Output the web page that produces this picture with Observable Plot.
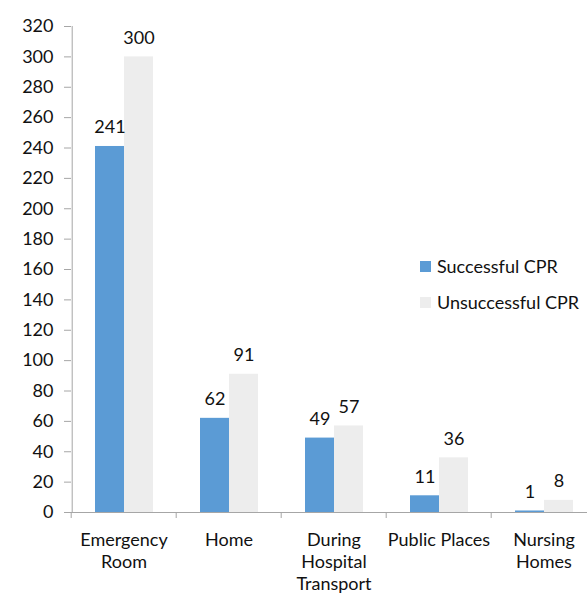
<!DOCTYPE html>
<html>
<head>
<meta charset="utf-8">
<script src="https://cdn.jsdelivr.net/npm/d3@7"></script>
<script src="https://cdn.jsdelivr.net/npm/@observablehq/plot@0.6"></script>
<style>
  html, body { margin: 0; padding: 0; background: #fff; }
  #chart { position: relative; width: 587px; height: 595px; font-family: Lato, "Open Sans", sans-serif; }
  .legend { position: absolute; left: 420px; top: 0; font-size: 18px; color: #111; }
  .legend .row { position: absolute; left: 0; white-space: nowrap; display: flex; align-items: center; line-height: 22px; }
  .legend .sw { width: 11px; height: 11px; margin-right: 6px; flex: none; }
</style>
</head>
<body>
<div id="chart"></div>
<script>
const categories = ["Emergency Room", "Home", "During Hospital Transport", "Public Places", "Nursing Homes"];
const categoryLabels = ["Emergency\nRoom", "Home", "During\nHospital\nTransport", "Public Places", "Nursing\nHomes"];
const series = ["Successful CPR", "Unsuccessful CPR"];
const successful = [241, 62, 49, 11, 1];
const unsuccessful = [300, 91, 57, 36, 8];
const yTicks = [0, 20, 40, 60, 80, 100, 120, 140, 160, 180, 200, 220, 240, 260, 280, 300, 320];
const colors = ["#5B9BD5", "#EDEDED"];
const axisColor = "#A6A6A6";

const data = [];
categories.forEach((c, i) => {
  data.push({category: c, series: series[0], value: successful[i]});
  data.push({category: c, series: series[1], value: unsuccessful[i]});
});

const fxRange = [69, 597];
const band = (fxRange[1] - fxRange[0]) / categories.length;
const outerPad = 0.76;
const step = band / (series.length + 2 * outerPad);
const firstBarCenterOffset = outerPad * step + step / 2;

const chart = Plot.plot({
  width: 587,
  height: 595,
  marginTop: 26,
  marginBottom: 83,
  marginLeft: 69,
  marginRight: 0,
  style: {fontFamily: "Lato, 'Open Sans', sans-serif", fontSize: "18px", color: "#111", background: "#fff"},
  fx: {domain: categories, range: fxRange, padding: 0, label: null},
  x: {domain: series, paddingInner: 0, paddingOuter: outerPad, axis: null},
  y: {domain: [0, 320], label: null},
  color: {domain: series, range: colors},
  marks: [
    Plot.barY(data, {fx: "category", x: "series", y: "value", fill: "series"}),
    Plot.text(data, {fx: "category", x: "series", y: "value", text: d => String(d.value), dy: -19, fill: "#111"}),
    Plot.ruleY([0], {stroke: axisColor}),
    Plot.ruleX(data.slice(0, 1), {fx: "category", x: "series", y1: 0, y2: 320, dx: -firstBarCenterOffset, stroke: axisColor}),
    Plot.axisY({ticks: yTicks, tickSize: 7, tickPadding: 11, stroke: axisColor, label: null, fill: "#111"}),
    Plot.axisFx({anchor: "bottom", tickSize: 0, tickPadding: 18, lineHeight: 1.22, label: null, fill: "#111",
      tickFormat: d => categoryLabels[categories.indexOf(d)]}),
    Plot.axisFx({anchor: "bottom", tickSize: 6, stroke: axisColor, dx: -band / 2, label: null, tickFormat: () => ""})
  ]
});

const root = document.getElementById("chart");
root.appendChild(chart);

const legend = document.createElement("div");
legend.className = "legend";
series.forEach((s, i) => {
  const row = document.createElement("div");
  row.className = "row";
  row.style.top = (255 + i * 36) + "px";
  const sw = document.createElement("span");
  sw.className = "sw";
  sw.style.background = colors[i];
  const label = document.createElement("span");
  label.textContent = s;
  row.appendChild(sw);
  row.appendChild(label);
  legend.appendChild(row);
});
root.appendChild(legend);
</script>
</body>
</html>
